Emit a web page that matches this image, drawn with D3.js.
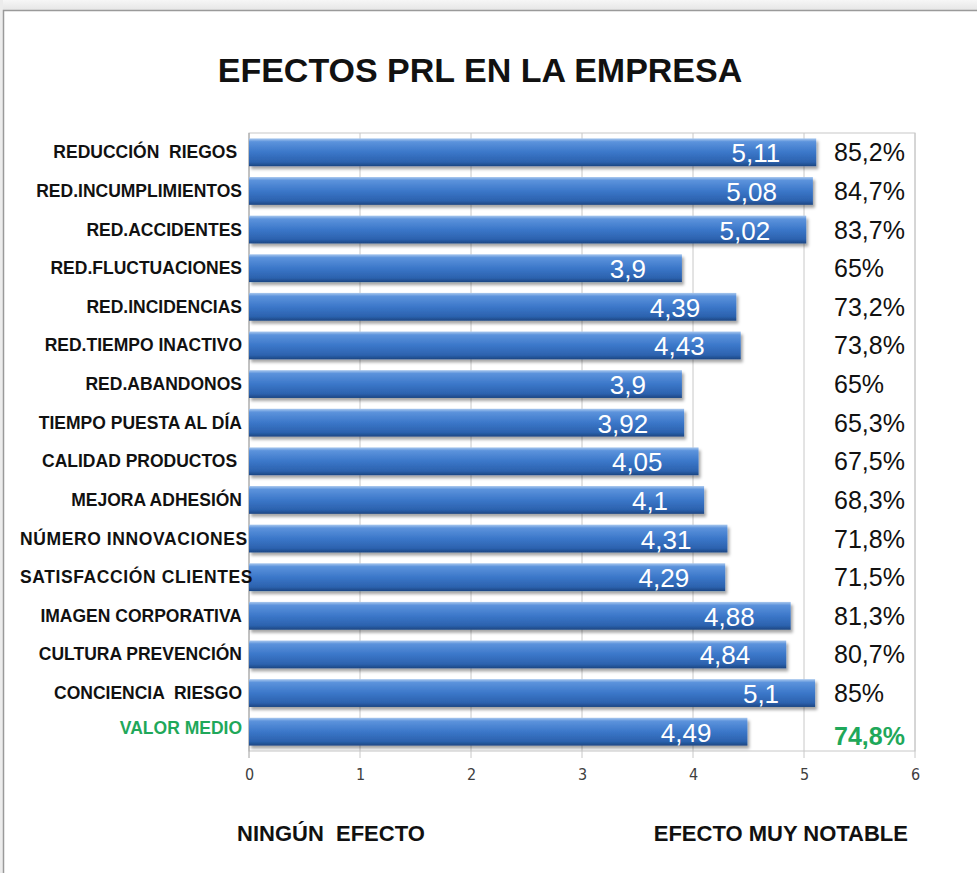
<!DOCTYPE html>
<html>
<head>
<meta charset="utf-8">
<script src="https://cdn.jsdelivr.net/npm/d3@7"></script>
<style>
  html, body { margin: 0; padding: 0; background: #fff; }
  svg { display: block; font-family: Arial, "Liberation Sans", sans-serif; }
</style>
</head>
<body>
<svg id="chart" width="977" height="873"></svg>
<script>
// categories, top to bottom
var categories = [
	"REDUCCIÓN  RIEGOS ", "RED.INCUMPLIMIENTOS", "RED.ACCIDENTES", "RED.FLUCTUACIONES",
	"RED.INCIDENCIAS", "RED.TIEMPO INACTIVO", "RED.ABANDONOS", "TIEMPO PUESTA AL DÍA",
	"CALIDAD PRODUCTOS ", "MEJORA ADHESIÓN", "NÚMERO INNOVACIONES", "SATISFACCIÓN CLIENTES",
	"IMAGEN CORPORATIVA", "CULTURA PREVENCIÓN", "CONCIENCIA  RIESGO", "VALOR MEDIO"
];
var values = [5.11, 5.08, 5.02, 3.9, 4.39, 4.43, 3.9, 3.92, 4.05, 4.1, 4.31, 4.29, 4.88, 4.84, 5.1, 4.49];
var percents = ["85,2%", "84,7%", "83,7%", "65%", "73,2%", "73,8%", "65%", "65,3%",
	"67,5%", "68,3%", "71,8%", "71,5%", "81,3%", "80,7%", "85%", "74,8%"];
var xTicks = [0, 1, 2, 3, 4, 5, 6];

var svg = d3.select("#chart");
var green = "#1fa85a";

// page background / frame
var defs = svg.append("defs");
var topGrad = defs.append("linearGradient").attr("id", "topGrad")
	.attr("x1", 0).attr("y1", 0).attr("x2", 0).attr("y2", 1);
topGrad.append("stop").attr("offset", "0%").attr("stop-color", "#f6f6f6");
topGrad.append("stop").attr("offset", "100%").attr("stop-color", "#e6e6e6");
svg.append("rect").attr("x", 0).attr("y", 0).attr("width", 977).attr("height", 10).attr("fill", "url(#topGrad)");
svg.append("rect").attr("x", 0).attr("y", 0).attr("width", 3).attr("height", 873).attr("fill", "#ececec");
svg.append("rect").attr("x", 3.5).attr("y", 10.5).attr("width", 990).attr("height", 900)
	.attr("fill", "#fff").attr("stroke", "#9a9a9a").attr("stroke-width", 1.5);

// bar gradient
var barGrad = defs.append("linearGradient").attr("id", "barGrad")
	.attr("x1", 0).attr("y1", 0).attr("x2", 0).attr("y2", 1);
barGrad.append("stop").attr("offset", "0%").attr("stop-color", "#a9c8ee");
barGrad.append("stop").attr("offset", "12%").attr("stop-color", "#5c93dc");
barGrad.append("stop").attr("offset", "50%").attr("stop-color", "#3b77c9");
barGrad.append("stop").attr("offset", "85%").attr("stop-color", "#2c62ae");
barGrad.append("stop").attr("offset", "100%").attr("stop-color", "#1c4682");
var shadow = defs.append("filter").attr("id", "shadow")
	.attr("x", "-5%").attr("y", "-20%").attr("width", "110%").attr("height", "160%");
shadow.append("feDropShadow").attr("dx", 2).attr("dy", 3).attr("stdDeviation", 1.5)
	.attr("flood-color", "#000").attr("flood-opacity", 0.35);

var margin = { left: 249, right: 62, top: 133, bottom: 122 };
var width = 977 - margin.left - margin.right;
var height = 873 - margin.top - margin.bottom;

var x = d3.scaleLinear().domain([0, 6]).range([0, width]);
var y = d3.scaleBand().domain(d3.range(categories.length)).range([0, height]).paddingInner(0.28).paddingOuter(0.14);

var g = svg.append("g").attr("transform", "translate(" + margin.left + "," + margin.top + ")");

// title
svg.append("text")
	.attr("x", 480).attr("y", 82)
	.attr("text-anchor", "middle")
	.attr("font-size", 34).attr("font-weight", "bold").attr("fill", "#111")
	.text("EFECTOS PRL EN LA EMPRESA");

// plot frame + grid
g.append("rect").attr("x", 0).attr("y", 0).attr("width", width).attr("height", height)
	.attr("fill", "none").attr("stroke", "#c8c8c8");
g.selectAll(".grid").data(xTicks).enter().append("line")
	.attr("class", "grid")
	.attr("x1", function(d) { return x(d); }).attr("x2", function(d) { return x(d); })
	.attr("y1", 0).attr("y2", height + 7)
	.attr("stroke", function(d) { return d == 0 ? "#a0a0a0" : "#c8c8c8"; });

// x axis labels
var xAxis = d3.axisBottom(x).tickValues(xTicks).tickSize(0).tickPadding(18).tickFormat(d3.format("d"));
var axisG = g.append("g").attr("transform", "translate(0," + height + ")").call(xAxis);
axisG.select(".domain").remove();
axisG.selectAll("text")
	.attr("font-family", "'Liberation Sans Narrow', 'DejaVu Sans Condensed', Arial, sans-serif")
	.attr("font-size", 16).attr("fill", "#404040");

// bars
g.selectAll(".bar").data(values).enter().append("rect")
	.attr("class", "bar")
	.attr("x", 0)
	.attr("y", function(d, i) { return y(i); })
	.attr("width", function(d) { return x(d); })
	.attr("height", y.bandwidth())
	.attr("fill", "url(#barGrad)")
	.attr("filter", "url(#shadow)");

// value labels inside bars
g.selectAll(".val").data(values).enter().append("text")
	.attr("class", "val")
	.attr("x", function(d) { return x(d) - 36; })
	.attr("y", function(d, i) { return y(i) + y.bandwidth() / 2 + 10; })
	.attr("text-anchor", "end")
	.attr("font-size", 26).attr("fill", "#fff")
	.text(function(d) { return String(d).replace(".", ","); });

// percent labels
g.selectAll(".pct").data(percents).enter().append("text")
	.attr("class", "pct")
	.attr("x", x(5) + 30)
	.attr("y", function(d, i) { return y(i) + y.bandwidth() / 2 + 9 + (i == percents.length - 1 ? 4 : 0); })
	.attr("font-size", 25)
	.attr("font-weight", function(d, i) { return i == percents.length - 1 ? "bold" : "normal"; })
	.attr("fill", function(d, i) { return i == percents.length - 1 ? green : "#111"; })
	.text(function(d) { return d; });

// category labels
var labels = svg.selectAll(".cat").data(categories).enter().append("text")
	.attr("class", "cat")
	.attr("y", function(d, i) { return margin.top + y(i) + y.bandwidth() / 2 + 6 - (i == categories.length - 1 ? 4 : 0); })
	.attr("font-size", 17.5).attr("font-weight", "bold")
	.attr("fill", function(d, i) { return i == categories.length - 1 ? green : "#111"; })
	.style("white-space", "pre")
	.text(function(d) { return d; });
labels.each(function() {
	var t = d3.select(this);
	var w = this.getComputedTextLength();
	if (w > 210) t.attr("x", 20).attr("text-anchor", "start").attr("letter-spacing", 0.6);
	else t.attr("x", 242).attr("text-anchor", "end");
});

// bottom captions
svg.append("text").attr("x", 237).attr("y", 841)
	.attr("font-size", 22).attr("font-weight", "bold").attr("fill", "#111")
	.style("white-space", "pre")
	.text("NINGÚN  EFECTO");
svg.append("text").attr("x", 908).attr("y", 841).attr("text-anchor", "end")
	.attr("font-size", 22).attr("font-weight", "bold").attr("fill", "#111")
	.text("EFECTO MUY NOTABLE");
</script>
</body>
</html>
